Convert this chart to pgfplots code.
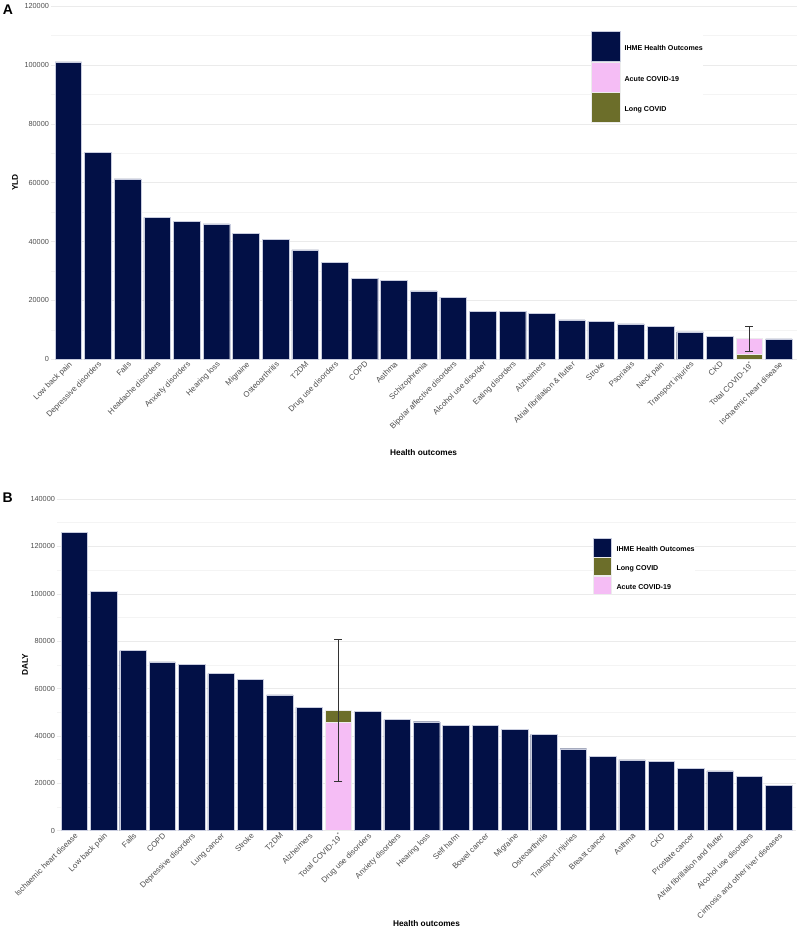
\documentclass[border=0pt]{standalone}
\usepackage{pgfplots}
\pgfplotsset{compat=1.18}
\usepackage{fontspec}
\setmainfont{Liberation Sans}
\definecolor{navy}{RGB}{2,16,70}
\definecolor{cpink}{RGB}{245,189,245}
\definecolor{colive}{RGB}{108,110,42}
\definecolor{barline}{RGB}{200,204,222}
\definecolor{tickgray}{RGB}{77,77,77}
\pgfplotsset{
  panel/.style={
    scale only axis, xmin=0.4, xmax=25.6, ymin=0,
    scaled y ticks=false, scaled x ticks=false,
    axis line style={draw=none}, tick style={draw=none},
    xtick={1,2,3,4,5,6,7,8,9,10,11,12,13,14,15,16,17,18,19,20,21,22,23,24,25},
    ymajorgrids, yminorgrids, minor y tick num=1,
    major grid style={color=gray!16, line width=0.5pt},
    minor grid style={color=gray!9, line width=0.4pt},
    x tick label style={rotate=45, anchor=north east, inner sep=1pt, font=\fontsize{7.9}{9}\selectfont, text=tickgray},
    y tick label style={font=\fontsize{7.3}{8}\selectfont, text=tickgray, inner sep=1.5pt},
    xlabel style={font=\bfseries\fontsize{8.3}{9}\selectfont},
    ylabel style={font=\bfseries\fontsize{8.3}{9}\selectfont},
    legend cell align=left,
  },
  navybar/.style={ybar, bar width=0.9, bar shift=0pt, fill=navy, draw=barline, line width=0.4pt},
  covbar/.style={ybar, bar width=0.9, bar shift=0pt, draw=white!85!gray, line width=0.4pt},
  errb/.style={forget plot, black!80, line width=0.6pt, mark=none,
    error bars/.cd, y dir=both, y explicit, error mark=|,
    error bar style={black!80, solid, line width=0.6pt},
    error mark options={black!80, solid, line width=0.6pt, mark size=4pt}},
}
\begin{document}
\begin{tikzpicture}
\useasboundingbox (0pt,0pt) rectangle (800pt,939pt);
% ---------------- Panel A ----------------
\begin{axis}[panel, at={(50.6pt,579.7pt)}, anchor=south west, width=746pt, height=353.3pt,
  ymax=120000,
  ytick={0,20000,40000,60000,80000,100000,120000},
  yticklabels={0,20000,40000,60000,80000,100000,120000},
  xticklabels={{Low back pain},{Depressive disorders},{Falls},{Headache disorders},{Anxiety disorders},{Hearing loss},{Migraine},{Osteoarthritis},{T2DM},{Drug use disorders},{COPD},{Asthma},{Schizophrenia},{Bipolar affective disorders},{Alcohol use disorder},{Eating disorders},{Alzheimers},{Atrial fibrillation \& flutter},{Stroke},{Psoriasis},{Neck pain},{Transport injuries},{CKD},{Total COVID-19\textsuperscript{*}},{Ischaemic heart disease}},
  xlabel={Health outcomes}, ylabel={YLD},
  xlabel style={at={(axis description cs:0.5,-0.265)}, anchor=center},
  ylabel style={at={(axis description cs:-0.0477,0.5)}, anchor=center},
  legend image code/.code={\fill[#1] (0pt,-12.5pt) rectangle (29pt,17.5pt);},
  legend style={at={(axis description cs:0.7244,0.9292)}, anchor=north west, draw=none, fill=white,
    inner sep=0pt, row sep=0pt, column sep=4pt, font=\bfseries\fontsize{7.1}{8}\selectfont,
    nodes={inner sep=0pt}},
]
\addplot[navybar] coordinates {(1,101000) (2,70200) (3,61300) (4,48200) (5,46900) (6,46000) (7,42800) (8,40700) (9,37200) (10,33000) (11,27500) (12,26800) (13,23200) (14,21100) (15,16300) (16,16300) (17,15600) (18,13400) (19,12900) (20,12000) (21,11200) (22,9300) (23,7900) (25,6900)};
\addlegendentry{IHME Health Outcomes}
% Total COVID-19: long COVID 1800 + acute 5400 = 7200
\addplot[covbar, fill=cpink] coordinates {(24,7200)};
\addlegendentry{Acute COVID-19}
\addplot[covbar, fill=colive] coordinates {(24,1800)};
\addlegendentry{Long COVID}
\addplot[errb] coordinates {(24,7200) += (0,4000) -= (0,4400)};
\end{axis}
% ---------------- Panel B ----------------
\begin{axis}[panel, at={(56.6pt,108.3pt)}, anchor=south west, width=739.8pt, height=331.7pt,
  ymax=140000,
  ytick={0,20000,40000,60000,80000,100000,120000,140000},
  yticklabels={0,20000,40000,60000,80000,100000,120000,140000},
  xticklabels={{Ischaemic heart disease},{Low back pain},{Falls},{COPD},{Depressive disorders},{Lung cancer},{Stroke},{T2DM},{Alzheimers},{Total COVID-19\textsuperscript{*}},{Drug use disorders},{Anxiety disorders},{Hearing loss},{Self harm},{Bowel cancer},{Migraine},{Osteoarthritis},{Transport injuries},{Breast cancer},{Asthma},{CKD},{Prostate cancer},{Atrial fibrillation and flutter},{Alcohol use disorders},{Cirrhosis and other liver diseases}},
  xlabel={Health outcomes}, ylabel={DALY},
  xlabel style={at={(axis description cs:0.5,-0.281)}, anchor=center},
  ylabel style={at={(axis description cs:-0.0427,0.5)}, anchor=center},
  legend image code/.code={\fill[#1] (0pt,-6.65pt) rectangle (18pt,11.65pt);},
  legend style={at={(axis description cs:0.725,0.8824)}, anchor=north west, draw=none, fill=white,
    inner sep=0pt, row sep=0pt, column sep=5pt, font=\bfseries\fontsize{7.1}{8}\selectfont,
    nodes={inner sep=0pt}},
]
\addplot[navybar] coordinates {(1,126000) (2,101000) (3,76000) (4,71300) (5,70200) (6,66300) (7,63800) (8,57300) (9,52100) (11,50300) (12,46900) (13,46000) (14,44500) (15,44500) (16,42800) (17,40700) (18,34600) (19,31300) (20,29900) (21,29200) (22,26300) (23,25200) (24,23000) (25,19000)};
\addlegendentry{IHME Health Outcomes}
% Total COVID-19: acute 45600 + long COVID 5200 = 50800
\addplot[covbar, fill=colive] coordinates {(10,50800)};
\addlegendentry{Long COVID}
\addplot[covbar, fill=cpink] coordinates {(10,45600)};
\addlegendentry{Acute COVID-19}
\addplot[errb] coordinates {(10,50800) += (0,30000) -= (0,30000)};
\end{axis}
\node[font=\bfseries\fontsize{14}{14}\selectfont] at (8pt,929.5pt) {A};
\node[font=\bfseries\fontsize{14}{14}\selectfont] at (7.7pt,441pt) {B};
\end{tikzpicture}
\end{document}
